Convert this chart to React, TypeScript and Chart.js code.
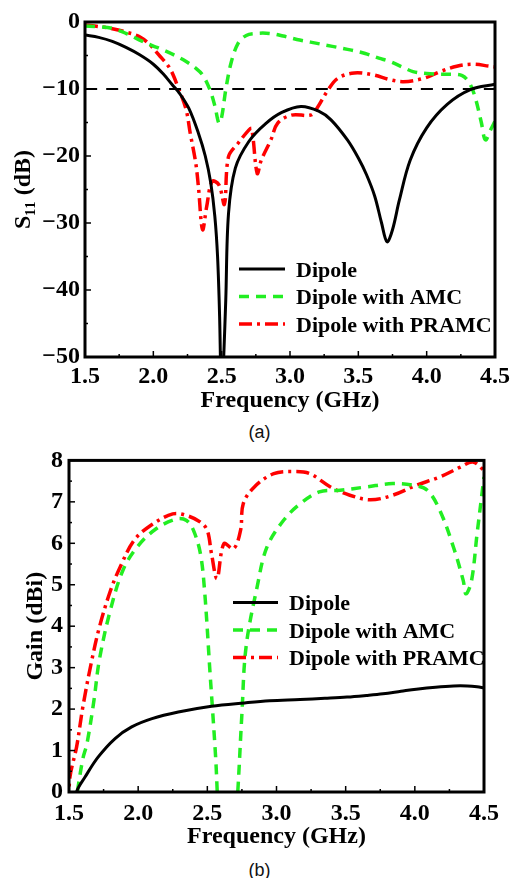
import React, { useEffect, useRef } from "react";
import { Chart, registerables } from "chart.js";

Chart.register(...registerables);

const SERIF = "'Liberation Serif', 'Times New Roman', Times, serif";
const SANS = "'Liberation Sans', Arial, Helvetica, sans-serif";

// ---------- shared ----------
const seriesLabels = ["Dipole", "Dipole with AMC", "Dipole with PRAMC"];
const freqTitle = "Frequency (GHz)";
const captions = ["(a)", "(b)"];

// ---------- panel (a): S11 ----------
const s11DipoleFreq = [1.5, 1.6, 1.7, 1.8, 1.9, 2.0, 2.07, 2.14, 2.19, 2.26, 2.33, 2.38, 2.42, 2.45, 2.47, 2.485, 2.5, 2.515, 2.53, 2.55, 2.6, 2.7, 2.82, 2.94, 3.08, 3.21, 3.3, 3.42, 3.5, 3.56, 3.62, 3.67, 3.71, 3.75, 3.8, 3.88, 4.0, 4.15, 4.32, 4.5];
const s11DipoleVal = [-1.95, -2.3, -2.9, -3.8, -4.9, -6.3, -7.7, -9.4, -10.6, -12.9, -16.6, -20.0, -24.0, -29.0, -35.0, -44.0, -58.0, -50.0, -41.5, -28.6, -21.8, -17.8, -15.2, -13.5, -12.6, -13.3, -14.6, -17.6, -20.3, -22.8, -26.0, -30.0, -32.8, -31.0, -26.6, -20.6, -15.8, -12.3, -10.1, -9.3];

const s11AmcFreq = [1.5, 1.6, 1.7, 1.8, 1.9, 2.0, 2.04, 2.15, 2.24, 2.31, 2.36, 2.41, 2.45, 2.48, 2.5, 2.53, 2.57, 2.62, 2.68, 2.75, 2.85, 2.95, 3.05, 3.15, 3.3, 3.45, 3.55, 3.65, 3.73, 3.82, 3.9, 4.0, 4.1, 4.2, 4.26, 4.3, 4.33, 4.36, 4.4, 4.43, 4.47, 4.5];
const s11AmcVal = [-0.6, -0.7, -0.95, -1.7, -2.7, -3.6, -3.9, -4.9, -5.9, -6.9, -7.9, -9.9, -12.5, -15.1, -14.2, -10.1, -6.0, -3.2, -2.0, -1.7, -1.7, -2.1, -2.6, -3.0, -3.6, -4.2, -4.7, -5.4, -5.9, -6.7, -7.4, -7.7, -7.8, -7.8, -8.0, -8.7, -9.8, -11.6, -15.0, -17.6, -16.0, -14.8];

const s11PramcFreq = [1.5, 1.61, 1.7, 1.8, 1.9, 1.97, 2.04, 2.12, 2.18, 2.24, 2.27, 2.31, 2.33, 2.36, 2.39, 2.43, 2.48, 2.52, 2.55, 2.62, 2.7, 2.72, 2.76, 2.79, 2.86, 2.91, 3.01, 3.15, 3.19, 3.28, 3.35, 3.47, 3.61, 3.73, 3.83, 3.98, 4.1, 4.22, 4.34, 4.46, 4.5];
const s11PramcVal = [-0.45, -0.7, -1.0, -1.5, -2.2, -3.3, -4.9, -6.9, -9.7, -13.1, -16.6, -21.0, -24.6, -31.0, -27.6, -23.8, -24.3, -27.2, -20.1, -18.1, -16.1, -15.9, -22.6, -20.6, -17.6, -15.1, -13.9, -13.9, -13.1, -10.1, -8.4, -7.6, -7.9, -8.6, -8.9, -8.4, -7.4, -6.6, -6.3, -6.6, -6.7];

const thresholdFreq = [1.5, 4.5];
const thresholdVal = [-10, -10];

// ---------- panel (b): Gain ----------
const gainDipoleFreq = [1.5, 1.555, 1.616, 1.71, 1.833, 1.953, 2.1, 2.29, 2.53, 2.77, 2.95, 3.17, 3.35, 3.51, 3.65, 3.77, 3.9, 4.01, 4.15, 4.28, 4.38, 4.45, 4.5];
const gainDipoleVal = [-1.0, 0.0, 0.36, 0.84, 1.29, 1.57, 1.77, 1.93, 2.07, 2.15, 2.2, 2.23, 2.26, 2.29, 2.33, 2.37, 2.43, 2.48, 2.53, 2.56, 2.56, 2.54, 2.51];

const gainAmcFreq = [1.52, 1.56, 1.6, 1.63, 1.68, 1.72, 1.8, 1.89, 1.99, 2.13, 2.28, 2.35, 2.4, 2.45, 2.48, 2.52, 2.56, 2.58, 2.62, 2.68, 2.72, 2.75, 2.78, 2.86, 2.93, 3.05, 3.17, 3.31, 3.46, 3.65, 3.84, 3.99, 4.09, 4.18, 4.28, 4.35, 4.37, 4.41, 4.45, 4.5];
const gainAmcVal = [-0.8, 0.0, 0.8, 1.17, 2.2, 3.2, 4.4, 5.35, 5.9, 6.35, 6.59, 6.55, 6.31, 5.75, 4.86, 2.85, 0.84, -0.5, -2.0, -2.0, 0.0, 1.89, 3.5, 4.95, 5.9, 6.55, 6.95, 7.24, 7.28, 7.36, 7.44, 7.4, 7.28, 6.8, 5.9, 5.1, 4.78, 5.1, 6.23, 7.6];

const gainPramcFreq = [1.5, 1.507, 1.555, 1.6, 1.66, 1.72, 1.8, 1.87, 1.97, 2.09, 2.25, 2.35, 2.45, 2.5, 2.53, 2.57, 2.62, 2.69, 2.74, 2.76, 2.84, 2.98, 3.12, 3.24, 3.39, 3.53, 3.68, 3.84, 4.01, 4.18, 4.33, 4.42, 4.5];
const gainPramcVal = [-0.3, 0.36, 1.09, 2.05, 3.1, 3.98, 4.86, 5.43, 6.07, 6.43, 6.71, 6.67, 6.51, 6.31, 5.75, 5.15, 5.99, 5.87, 6.31, 6.96, 7.36, 7.68, 7.73, 7.68, 7.36, 7.16, 7.05, 7.16, 7.4, 7.6, 7.84, 7.96, 7.76];

// ---------- styles ----------
const BLACK = "#000000";
const GREEN = "rgb(34,238,34)";
const RED = "rgb(255,0,0)";
const STYLES = [
  { color: BLACK, dash: [] as number[], width: 3 },
  { color: GREEN, dash: [10, 7], width: 3.5 },
  { color: RED, dash: [13, 5, 3, 5], width: 3.5 },
];

const pts = (xs: number[], ys: number[]) => xs.map((x, i) => ({ x, y: ys[i] }));

const makeDataset = (label: string, xs: number[], ys: number[], st: any) => ({
  label,
  data: pts(xs, ys),
  borderColor: st.color,
  backgroundColor: st.color,
  borderWidth: st.width,
  borderDash: st.dash,
  pointRadius: 0,
  fill: false,
  tension: 0.35,
  clip: 0,
});

function framePlugin(xStep: number, yStep: number) {
  return {
    id: "frame",
    afterDatasetsDraw(chart: any) {
      const { ctx, chartArea: a, scales } = chart;
      const xs = scales.x;
      const ys = scales.y;
      ctx.save();
      ctx.strokeStyle = BLACK;
      ctx.lineWidth = 1.5;
      ctx.setLineDash([]);
      const nX = Math.round((xs.max - xs.min) / (xStep / 2));
      for (let i = 0; i <= nX; i++) {
        const v = xs.min + (i * xStep) / 2;
        const px = xs.getPixelForValue(v);
        const len = i % 2 === 0 ? 6 : 3;
        ctx.beginPath();
        ctx.moveTo(px, a.bottom);
        ctx.lineTo(px, a.bottom - len);
        ctx.stroke();
      }
      const nY = Math.round((ys.max - ys.min) / (yStep / 2));
      for (let i = 0; i <= nY; i++) {
        const v = ys.min + (i * yStep) / 2;
        const py = ys.getPixelForValue(v);
        const len = i % 2 === 0 ? 6 : 3;
        ctx.beginPath();
        ctx.moveTo(a.left, py);
        ctx.lineTo(a.left + len, py);
        ctx.stroke();
      }
      ctx.lineWidth = 3;
      ctx.strokeRect(a.left, a.top, a.right - a.left, a.bottom - a.top);
      ctx.restore();
    },
  };
}

function legendPlugin(cfg: { x0: number; x1: number; textX: number; baselines: number[] }) {
  return {
    id: "customLegend",
    afterDraw(chart: any) {
      const ctx = chart.ctx;
      ctx.save();
      let row = 0;
      chart.data.datasets.forEach((ds: any) => {
        if (!ds.label) return;
        const base = cfg.baselines[row++];
        const ly = base - 7.5;
        ctx.strokeStyle = ds.borderColor;
        ctx.lineWidth = ds.borderWidth;
        ctx.setLineDash(ds.borderDash || []);
        ctx.beginPath();
        ctx.moveTo(cfg.x0, ly);
        ctx.lineTo(cfg.x1, ly);
        ctx.stroke();
        ctx.setLineDash([]);
        ctx.fillStyle = BLACK;
        ctx.font = `bold 22px ${SERIF}`;
        ctx.textAlign = "left";
        ctx.textBaseline = "alphabetic";
        ctx.fillText(ds.label, cfg.textX, base);
      });
      ctx.restore();
    },
  };
}

type PanelProps = {
  top: number;
  height: number;
  datasets: any[];
  yMin: number;
  yMax: number;
  yStep: number;
  yTitle: string;
  padTop: number;
  padRight: number;
  yAxisW: number;
  xAxisH: number;
  yTitlePad: number;
  xTitlePad: number;
  yTickPad: number;
  xTickPad: number;
  legend: { x0: number; x1: number; textX: number; baselines: number[] };
};

function Panel(p: PanelProps) {
  const ref = useRef<HTMLCanvasElement | null>(null);
  useEffect(() => {
    if (!ref.current) return;
    const tickFont = { family: SERIF, size: 24, weight: "bold" as const };
    const chart = new Chart(ref.current, {
      type: "line",
      data: { datasets: p.datasets },
      options: {
        responsive: false,
        animation: false,
        devicePixelRatio: 1,
        events: [],
        layout: { padding: { top: p.padTop, right: p.padRight, left: 0, bottom: 0 } },
        plugins: { legend: { display: false }, tooltip: { enabled: false }, title: { display: false } },
        scales: {
          x: {
            type: "linear",
            min: 1.5,
            max: 4.5,
            grid: { display: false, drawTicks: false },
            border: { display: false },
            ticks: {
              stepSize: 0.5,
              color: BLACK,
              font: tickFont,
              padding: p.xTickPad,
              maxRotation: 0,
              callback: (v: any) => Number(v).toFixed(1),
            },
            title: {
              display: true,
              text: freqTitle,
              color: BLACK,
              font: tickFont,
              padding: { top: 0, bottom: p.xTitlePad },
            },
            afterFit: (s: any) => {
              s.height = p.xAxisH;
            },
          },
          y: {
            type: "linear",
            min: p.yMin,
            max: p.yMax,
            grid: { display: false, drawTicks: false },
            border: { display: false },
            ticks: {
              stepSize: p.yStep,
              color: BLACK,
              font: tickFont,
              padding: p.yTickPad,
              callback: (v: any) => String(v).replace("-", "\u2212"),
            },
            title: {
              display: true,
              text: p.yTitle,
              color: BLACK,
              font: tickFont,
              padding: { top: p.yTitlePad, bottom: 0 },
            },
            afterFit: (s: any) => {
              s.width = p.yAxisW;
            },
          },
        },
      } as any,
      plugins: [framePlugin(0.5, p.yStep), legendPlugin(p.legend)],
    });
    return () => chart.destroy();
  }, []);
  return (
    <div style={{ position: "absolute", left: 0, top: p.top, width: 515, height: p.height }}>
      <canvas ref={ref} width={515} height={p.height} style={{ display: "block" }} />
    </div>
  );
}

const captionStyle = (top: number): React.CSSProperties => ({
  position: "absolute",
  left: 0,
  width: 519,
  top,
  textAlign: "center",
  fontFamily: SANS,
  fontSize: 18,
  lineHeight: "18px",
  color: "#111",
});

export default function App() {
  const dsA = [
    makeDataset("", thresholdFreq, thresholdVal, { color: BLACK, dash: [12, 9], width: 2 }),
    makeDataset(seriesLabels[0], s11DipoleFreq, s11DipoleVal, STYLES[0]),
    makeDataset(seriesLabels[1], s11AmcFreq, s11AmcVal, STYLES[1]),
    makeDataset(seriesLabels[2], s11PramcFreq, s11PramcVal, STYLES[2]),
  ];
  const dsB = [
    makeDataset(seriesLabels[0], gainDipoleFreq, gainDipoleVal, STYLES[0]),
    makeDataset(seriesLabels[1], gainAmcFreq, gainAmcVal, STYLES[1]),
    makeDataset(seriesLabels[2], gainPramcFreq, gainPramcVal, STYLES[2]),
  ];
  return (
    <div style={{ position: "absolute", left: 0, top: 0, width: 515, height: 878, overflow: "hidden", background: "#fff" }}>
      <Panel
        top={0}
        height={420}
        datasets={dsA}
        yMin={-50}
        yMax={0}
        yStep={10}
        yTitle={"S\u2081\u2081 (dB)"}
        padTop={22}
        padRight={16}
        yAxisW={85}
        xAxisH={63}
        yTitlePad={9}
        xTitlePad={5}
        yTickPad={5}
        xTickPad={5}
        legend={{ x0: 239, x1: 285, textX: 296, baselines: [276.5, 304, 331.5] }}
      />
      <div style={captionStyle(423)}>{captions[0]}</div>
      <Panel
        top={440}
        height={420}
        datasets={dsB}
        yMin={0}
        yMax={8}
        yStep={1}
        yTitle={"Gain (dBi)"}
        padTop={20}
        padRight={31}
        yAxisW={69}
        xAxisH={68}
        yTitlePad={21}
        xTitlePad={9}
        yTickPad={6}
        xTickPad={7}
        legend={{ x0: 233, x1: 278, textX: 289, baselines: [170, 197.5, 225] }}
      />
      <div style={captionStyle(861)}>{captions[1]}</div>
    </div>
  );
}
